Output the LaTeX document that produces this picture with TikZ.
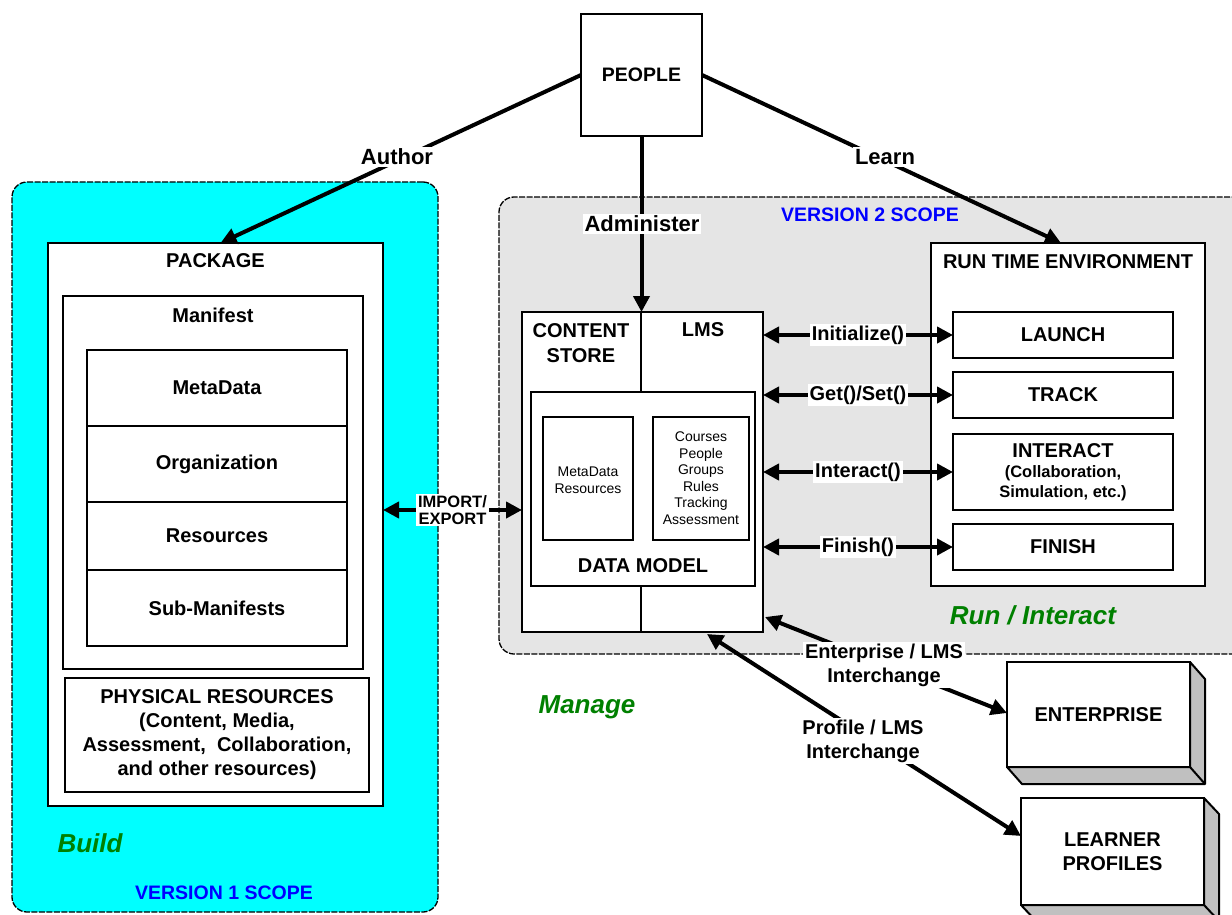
\documentclass[tikz,border=0pt]{standalone}
\usepackage{fontspec}
\setmainfont{Liberation Sans}
\usetikzlibrary{arrows.meta,calc}
\definecolor{cyanbg}{RGB}{0,255,255}
\definecolor{graybg}{RGB}{229,229,229}
\definecolor{grn}{RGB}{0,128,0}
\definecolor{blu}{RGB}{0,0,255}
\definecolor{shadeface}{RGB}{192,192,192}
\newcommand\fsz[2]{\fontsize{#1}{#2}\selectfont}
\begin{document}
\begin{tikzpicture}[x=1pt,y=-1pt,
  pbox/.style={draw, line width=2.2pt, fill=white, inner sep=0pt, outer sep=0pt, align=center, font=\fsz{20}{24}\bfseries},
  lbl/.style={font=\fsz{20}{24}\bfseries, inner sep=0pt, align=center},
  wlbl/.style={lbl, fill=white, inner sep=2pt},
  biglbl/.style={font=\fsz{22}{26}\bfseries, fill=white, inner sep=2pt},
  small/.style={font=\fsz{14}{16.5}\selectfont, inner sep=0pt, align=center},
  conn/.style={line width=4pt},
  arrowend/.style={-{Triangle[length=16pt,width=16pt]}},
  darrow/.style={{Triangle[length=16pt,width=16pt]}-{Triangle[length=16pt,width=16pt]}},
  scopebox/.style={draw, line width=1.3pt, dash pattern=on 6pt off 1.5pt, rounded corners=15pt, inner sep=0pt, outer sep=0pt},
  phase/.style={font=\fsz{26}{30}\bfseries\itshape, text=grn, inner sep=0pt},
  ver/.style={font=\fsz{19.5}{22}\bfseries, text=blu, inner sep=0pt},
]
\path[use as bounding box] (0,0) rectangle (1232,915);
\clip (0,0) rectangle (1232,915);

% scope areas
\node[scopebox, fill=cyanbg, minimum width=426pt, minimum height=730pt] (v1) at (225,547) {};
\node[scopebox, fill=graybg, minimum width=761pt, minimum height=457pt] (v2) at (879.5,425.5) {};

% people
\node[pbox, line width=2pt, minimum width=121pt, minimum height=122pt, font=\fsz{19.5}{22}\bfseries] (people) at (641.5,75) {PEOPLE};

% package side
\node[pbox, minimum width=335pt, minimum height=563pt] (pkg) at (215.5,524.5) {};
\node[lbl] (pkgT) at (215.5,261) {PACKAGE};
\node[pbox, minimum width=300pt, minimum height=373pt] (man) at (213,482.5) {};
\node[lbl] (manT) at (213,315) {Manifest};
\node[pbox, minimum width=260pt, minimum height=76pt] (meta) at (217,388) {MetaData};
\node[pbox, minimum width=260pt, minimum height=76pt] (org) at (217,464) {Organization};
\node[pbox, minimum width=260pt, minimum height=68pt] (res) at (217,536) {Resources};
\node[pbox, minimum width=260pt, minimum height=76pt] (sub) at (217,608) {Sub-Manifests};
\node[pbox, minimum width=304pt, minimum height=114pt] (phys) at (217,735) {PHYSICAL RESOURCES\\(Content, Media,\\Assessment,~ Collaboration,\\and other resources)};

% content store / LMS
\node[pbox, minimum width=241pt, minimum height=320pt] (cbox) at (642.5,472) {};
\draw[line width=2pt] (641,312) -- (641,392);
\draw[line width=2pt] (641,586) -- (641,632);
\node[lbl, font=\fsz{20}{25}\bfseries] (cstT) at (581,343) {CONTENT\\STORE};
\node[lbl] (lmsT) at (703,330) {LMS};
\node[pbox, minimum width=224pt, minimum height=194pt] (dm) at (643,489) {};
\node[lbl] (dmT) at (643,566) {DATA MODEL};
\node[pbox, line width=2pt, minimum width=90pt, minimum height=123pt] (dmA) at (588,478.5) {};
\node[small] (dmAT) at (588,480) {MetaData\\Resources};
\node[pbox, line width=2pt, minimum width=96pt, minimum height=123pt] (dmB) at (701,478.5) {};
\node[small] (dmBT) at (701,478) {Courses\\People\\Groups\\Rules\\Tracking\\Assessment};

% run time environment
\node[pbox, minimum width=274pt, minimum height=343pt] (rte) at (1068,414.5) {};
\node[lbl] (rteT) at (1068,262) {RUN TIME ENVIRONMENT};
\node[pbox, minimum width=220pt, minimum height=46pt] (launch) at (1063,335) {LAUNCH};
\node[pbox, minimum width=220pt, minimum height=46pt] (track) at (1063,395) {TRACK};
\node[pbox, minimum width=220pt, minimum height=76pt] (inter) at (1063,472) {};
\node[lbl, font=\fsz{16.5}{20}\bfseries] (interT) at (1063,472) {{\fsz{20}{22}INTERACT}\\(Collaboration,\\Simulation, etc.)};
\node[pbox, minimum width=220pt, minimum height=46pt] (finish) at (1063,547) {FINISH};

% 3D boxes
\node[pbox, minimum width=183pt, minimum height=105pt] (ent) at (1098.5,714.5) {ENTERPRISE};
\draw[line width=2pt, fill=shadeface, line join=round] (ent.north east) -- ++(15,17) -- ($(ent.south east)+(15,17)$) -- ($(ent.south west)+(15,17)$) -- (ent.south west) -- (ent.south east) -- cycle;
\draw[line width=2pt] (ent.south east) -- ++(15,17);
\node[pbox, minimum width=183pt, minimum height=107pt] (lrn) at (1112.5,851.5) {LEARNER\\PROFILES};
\draw[line width=2pt, fill=shadeface, line join=round] (lrn.north east) -- ++(15,16) -- ($(lrn.south east)+(15,16)$) -- ($(lrn.south west)+(15,16)$) -- (lrn.south west) -- (lrn.south east) -- cycle;
\draw[line width=2pt] (lrn.south east) -- ++(15,16);

% people connectors
\draw[conn, arrowend] (people.west) -- ([xshift=5pt]pkg.north);
\node[biglbl] (authorT) at (397,157) {Author};
\coordinate (rteTop) at (1061,243);
\draw[conn, arrowend] (people.east) -- (rteTop);
\node[biglbl] (learnT) at (885,157) {Learn};
\draw[conn, arrowend] (people.south) -- (people.south |- cbox.north);
\node[biglbl] (adminT) at (642,224) {Administer};

% API arrows
\draw[conn, darrow] (cbox.east |- launch.west) -- node[wlbl] (l1) {Initialize()} (launch.west);
\draw[conn, darrow] (cbox.east |- track.west) -- node[wlbl] (l2) {Get()/Set()} (track.west);
\draw[conn, darrow] (cbox.east |- inter.west) -- node[wlbl] (l3) {Interact()} (inter.west);
\draw[conn, darrow] (cbox.east |- finish.west) -- node[wlbl] (l4) {Finish()} (finish.west);

% import / export
\coordinate (ieL) at (383,510);
\draw[conn, darrow] (pkg.east |- ieL) -- node[wlbl, font=\fsz{16.5}{16.5}\bfseries] (ieT) {IMPORT/\\EXPORT} (cbox.west |- ieL);

% interchanges
\coordinate (entA) at (765,617);
\coordinate (entB) at (1007,713);
\draw[conn, darrow] (entA) -- (entB);
\node[wlbl] (entT) at (884,665) {Enterprise / LMS\\Interchange};
\coordinate (prfA) at (707,634);
\coordinate (prfB) at (1021,836);
\draw[conn, darrow] (prfA) -- (prfB);
\node[wlbl] (prfT) at (863,741) {Profile / LMS\\Interchange};

% phase & scope labels
\node[ver] (v2T) at (870,215) {VERSION 2 SCOPE};
\node[ver] (v1T) at (224,893) {VERSION 1 SCOPE};
\node[phase] (buildT) at (90,843) {Build};
\node[phase] (manageT) at (587,707) {Manage};
\node[phase] (runT) at (1033,615) {Run / Interact};
\end{tikzpicture}
\end{document}
